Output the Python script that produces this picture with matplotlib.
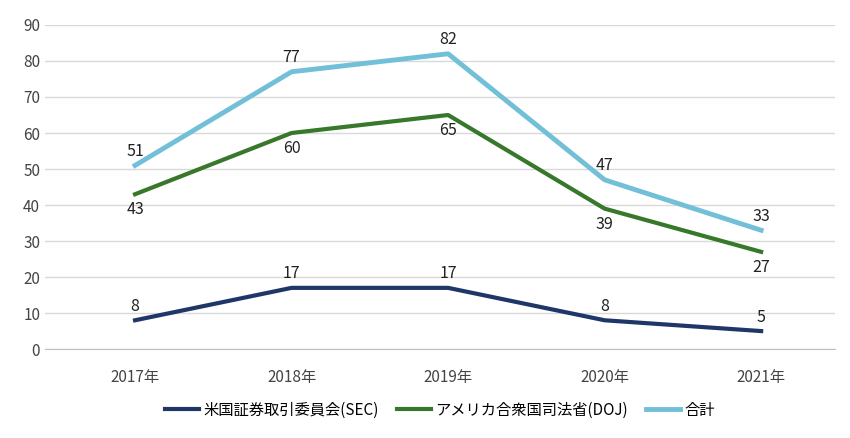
import matplotlib
matplotlib.use('Agg')
import matplotlib.pyplot as plt

plt.rcParams['font.family'] = ['Noto Sans CJK JP', 'DejaVu Sans']

years = ['2017年', '2018年', '2019年', '2020年', '2021年']
sec = [8, 17, 17, 8, 5]
doj = [43, 60, 65, 39, 27]
total = [51, 77, 82, 47, 33]

fig = plt.figure(figsize=(8.5, 4.38), dpi=100)
ax = fig.add_axes([0.053, 0.203, 0.929, 0.74])
x = range(len(years))

ax.plot(x, sec, color='#1f3768', lw=3, label='米国証券取引委員会(SEC)')
ax.plot(x, doj, color='#37782a', lw=3, label='アメリカ合衆国司法省(DOJ)')
ax.plot(x, total, color='#72bfd8', lw=3.5, label='合計')

for i in x:
    ax.annotate(str(sec[i]), (i, sec[i]), xytext=(0, 4), textcoords='offset points',
                ha='center', va='bottom', fontsize=11.5, color='#222222')
    ax.annotate(str(doj[i]), (i, doj[i]), xytext=(0, -5), textcoords='offset points',
                ha='center', va='top', fontsize=11.5, color='#222222')
    ax.annotate(str(total[i]), (i, total[i]), xytext=(0, 4), textcoords='offset points',
                ha='center', va='bottom', fontsize=11.5, color='#222222')

ax.set_xlim(-0.575, 4.47)
ax.set_ylim(0, 90)
ax.set_yticks(range(0, 91, 10))
ax.set_xticks(list(x))
ax.set_xticklabels(years)
ax.grid(axis='y', color='#d9d9d9', lw=1)
ax.set_axisbelow(True)
for s in ['top', 'right', 'left']:
    ax.spines[s].set_visible(False)
ax.spines['bottom'].set_color('#bfbfbf')
ax.tick_params(axis='both', length=0, labelsize=11, colors='#444444')
ax.tick_params(axis='x', pad=14)

ax.legend(loc='upper center', bbox_to_anchor=(0.5, -0.12), ncol=3, frameon=False,
          fontsize=11, handlelength=2.2, columnspacing=1.2, handletextpad=0.3)

fig.savefig('out.png', dpi=100)
